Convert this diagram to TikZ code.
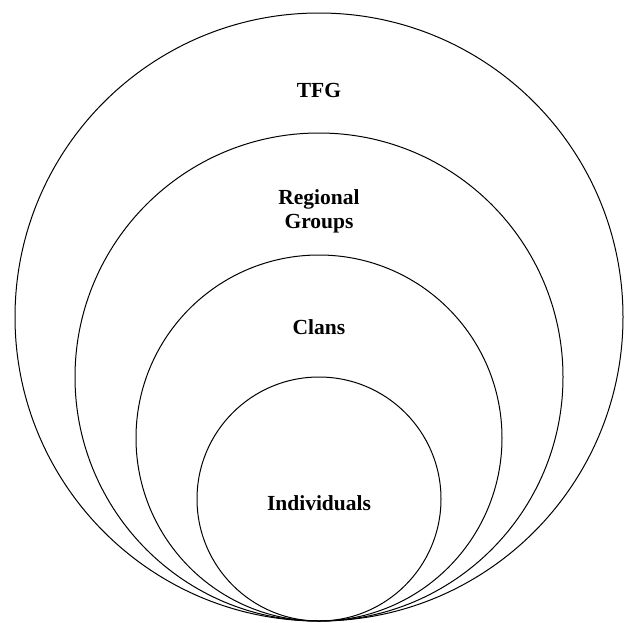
\documentclass[tikz,border=0pt]{standalone}
\usepackage{fontspec}
\setmainfont{Liberation Serif}
\tikzset{
  ring/.style={line width=1pt},
  lbl/.style={font=\fontsize{21.5}{24}\selectfont\bfseries, align=center, inner sep=0pt}
}
\begin{document}
\begin{tikzpicture}[x=1pt,y=-1pt]
\useasboundingbox (0,0) rectangle (624,622);
% nested circles, all touching at the bottom point (319,621)
\foreach \r in {304,244,183,122} { \draw[ring] (319,{621-\r}) circle (\r pt); }
\node[lbl] (tfg) at (319,90) {TFG};
\node[lbl] (regional) at (319,211) {Regional\\Groups};
\node[lbl] (clans) at (319,327) {Clans};
\node[lbl] (individuals) at (319,503) {Individuals};
\end{tikzpicture}
\end{document}
